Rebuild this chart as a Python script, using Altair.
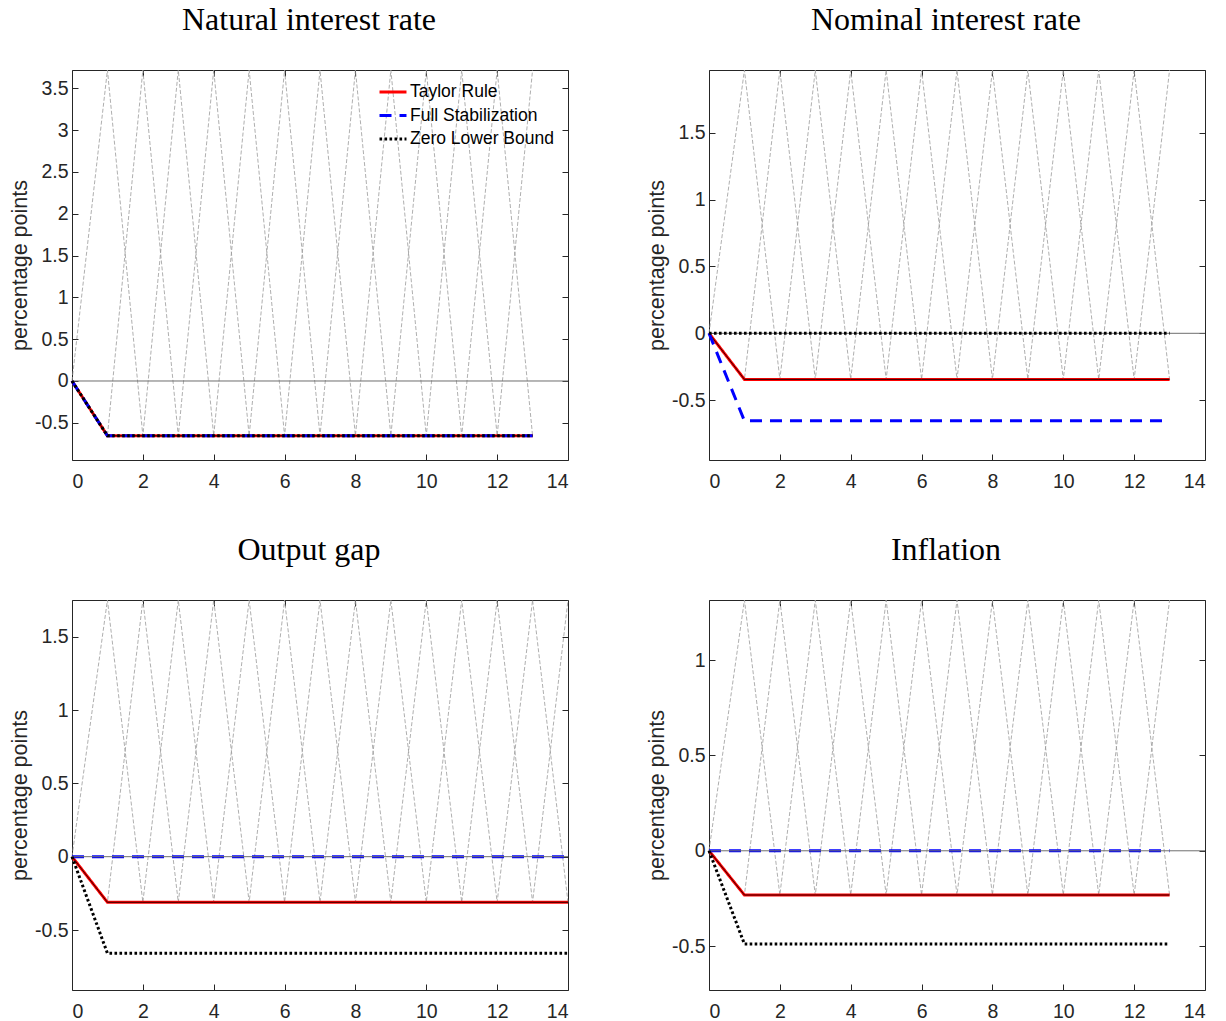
import altair as alt
import pandas as pd

# ---------------- data ----------------
SERIES = ["Taylor Rule", "Full Stabilization", "Zero Lower Bound"]
COLORS = ["#ff0000", "#0000ff", "#000000"]
DASHES = [[1, 0], [12, 8], [2.6, 2.4]]

TITLES = ["Natural interest rate", "Nominal interest rate", "Output gap", "Inflation"]
XTICKS = [0, 2, 4, 6, 8, 10, 12, 14]

X13 = [0, 1, 2, 3, 4, 5, 6, 7, 8, 9, 10, 11, 12, 13]
X14 = [0, 1, 2, 3, 4, 5, 6, 7, 8, 9, 10, 11, 12, 13, 14]

# Natural interest rate
P1_TAYLOR = [0, -0.655, -0.655, -0.655, -0.655, -0.655, -0.655, -0.655, -0.655, -0.655, -0.655, -0.655, -0.655, -0.655]
P1_FULL = [0, -0.655, -0.655, -0.655, -0.655, -0.655, -0.655, -0.655, -0.655, -0.655, -0.655, -0.655, -0.655, -0.655]
P1_ZLB = [0, -0.655, -0.655, -0.655, -0.655, -0.655, -0.655, -0.655, -0.655, -0.655, -0.655, -0.655, -0.655, -0.655]
P1_ZIG_A = [0, 3.72, -0.655, 3.72, -0.655, 3.72, -0.655, 3.72, -0.655, 3.72, -0.655, 3.72, -0.655, 3.72]
P1_ZIG_B = [0, -0.655, 3.72, -0.655, 3.72, -0.655, 3.72, -0.655, 3.72, -0.655, 3.72, -0.655, 3.72, -0.655]
P1_YDOM = [-0.945, 3.72]
P1_YTICKS = [-0.5, 0, 0.5, 1, 1.5, 2, 2.5, 3, 3.5]

# Nominal interest rate
P2_TAYLOR = [0, -0.345, -0.345, -0.345, -0.345, -0.345, -0.345, -0.345, -0.345, -0.345, -0.345, -0.345, -0.345, -0.345]
P2_FULL = [0, -0.655, -0.655, -0.655, -0.655, -0.655, -0.655, -0.655, -0.655, -0.655, -0.655, -0.655, -0.655, -0.655]
P2_ZLB = [0, 0, 0, 0, 0, 0, 0, 0, 0, 0, 0, 0, 0, 0]
P2_ZIG_A = [0, 1.97, -0.345, 1.97, -0.345, 1.97, -0.345, 1.97, -0.345, 1.97, -0.345, 1.97, -0.345, 1.97]
P2_ZIG_B = [0, -0.345, 1.97, -0.345, 1.97, -0.345, 1.97, -0.345, 1.97, -0.345, 1.97, -0.345, 1.97, -0.345]
P2_YDOM = [-0.948, 1.97]
P2_YTICKS = [-0.5, 0, 0.5, 1, 1.5]

# Output gap
P3_TAYLOR = [0, -0.311, -0.311, -0.311, -0.311, -0.311, -0.311, -0.311, -0.311, -0.311, -0.311, -0.311, -0.311, -0.311, -0.311]
P3_FULL = [0, 0, 0, 0, 0, 0, 0, 0, 0, 0, 0, 0, 0, 0, 0]
P3_ZLB = [0, -0.659, -0.659, -0.659, -0.659, -0.659, -0.659, -0.659, -0.659, -0.659, -0.659, -0.659, -0.659, -0.659, -0.659]
P3_ZIG_A = [0, 1.75, -0.311, 1.75, -0.311, 1.75, -0.311, 1.75, -0.311, 1.75, -0.311, 1.75, -0.311, 1.75, -0.311]
P3_ZIG_B = [0, -0.311, 1.75, -0.311, 1.75, -0.311, 1.75, -0.311, 1.75, -0.311, 1.75, -0.311, 1.75, -0.311, 1.75]
P3_YDOM = [-0.909, 1.75]
P3_YTICKS = [-0.5, 0, 0.5, 1, 1.5]

# Inflation
P4_TAYLOR = [0, -0.232, -0.232, -0.232, -0.232, -0.232, -0.232, -0.232, -0.232, -0.232, -0.232, -0.232, -0.232, -0.232]
P4_FULL = [0, 0, 0, 0, 0, 0, 0, 0, 0, 0, 0, 0, 0, 0]
P4_ZLB = [0, -0.489, -0.489, -0.489, -0.489, -0.489, -0.489, -0.489, -0.489, -0.489, -0.489, -0.489, -0.489, -0.489]
P4_ZIG_A = [0, 1.315, -0.232, 1.315, -0.232, 1.315, -0.232, 1.315, -0.232, 1.315, -0.232, 1.315, -0.232, 1.315]
P4_ZIG_B = [0, -0.232, 1.315, -0.232, 1.315, -0.232, 1.315, -0.232, 1.315, -0.232, 1.315, -0.232, 1.315, -0.232]
P4_YDOM = [-0.73, 1.315]
P4_YTICKS = [-0.5, 0, 0.5, 1]

ZERO_X = [0, 14]
ZERO_Y = [0, 0]

# ---------------- layout / style ----------------
W, H = 496, 390
AXIS_COLOR = "#262626"
SANS = "Liberation Sans"
SERIF = "Liberation Serif"
LABEL_EXPR = "'' + datum.value"


def tick_axis(orient, offset, values):
    return alt.Axis(orient=orient, offset=offset, values=values, labels=False,
                    domain=False, grid=False, ticks=True, tickSize=6,
                    tickColor=AXIS_COLOR, tickWidth=1, title=None)


def panel(title, xs, taylor, full, zlb, zig_a, zig_b, ydom, yticks, show_legend):
    n = len(xs)
    lines = pd.DataFrame({
        "x": xs * 3,
        "v": taylor + full + zlb,
        "s": [SERIES[0]] * n + [SERIES[1]] * n + [SERIES[2]] * n,
    })
    zig = pd.DataFrame({"x": xs * 2, "v": zig_a + zig_b, "g": ["a"] * n + ["b"] * n})
    zero = pd.DataFrame({"x": ZERO_X, "v": ZERO_Y})

    xsc = alt.Scale(domain=[0, 14], nice=False, zero=False)
    ysc = alt.Scale(domain=ydom, nice=False, zero=False)

    lab_x = alt.Axis(orient="bottom", values=XTICKS, ticks=False, tickSize=0, domain=False,
                     grid=False, labelPadding=12, labelFontSize=19.5, labelFont=SANS,
                     labelColor=AXIS_COLOR, title=None, labelExpr=LABEL_EXPR)
    lab_y = alt.Axis(orient="left", values=yticks, ticks=False, tickSize=0, domain=False,
                     grid=False, labelPadding=4, labelFontSize=19.5, labelFont=SANS,
                     labelColor=AXIS_COLOR, labelExpr=LABEL_EXPR,
                     title="percentage points", titleFont=SANS, titleFontSize=21.5,
                     titleFontWeight="normal", titleColor=AXIS_COLOR,
                     titleX=-52, titleY=H / 2, titleAngle=270,
                     titleAlign="center", titleBaseline="middle")

    if show_legend:
        leg = alt.Legend(orient="none", legendX=310, legendY=11, title=None,
                         symbolType="M-1.42,0H1.42", symbolSize=361, symbolStrokeWidth=2.8,
                         labelFont=SANS, labelFontSize=17.5, labelColor="black",
                         labelOffset=6, rowPadding=3.5, padding=0)
    else:
        leg = None

    col = alt.Color("s:N", scale=alt.Scale(domain=SERIES, range=COLORS), legend=leg)
    dash = alt.StrokeDash("s:N", scale=alt.Scale(domain=SERIES, range=DASHES), legend=leg)

    zig_layer = alt.Chart(zig).mark_line(color="#9a9a9a", strokeWidth=0.8,
                                         strokeDash=[4, 2]).encode(
        x=alt.X("x:Q", scale=xsc, axis=lab_x),
        y=alt.Y("v:Q", scale=ysc, axis=lab_y),
        detail="g:N",
    )

    def series_layer(i, xaxis, yaxis):
        return alt.Chart(lines).transform_filter(
            alt.datum.s == SERIES[i]
        ).mark_line(strokeWidth=3, strokeCap="butt").encode(
            x=alt.X("x:Q", scale=xsc, axis=xaxis),
            y=alt.Y("v:Q", scale=ysc, axis=yaxis),
            color=col,
            strokeDash=dash,
        )

    taylor_layer = series_layer(0, tick_axis("top", -H, XTICKS), tick_axis("left", -W, yticks))
    thin_layer = alt.Chart(lines).transform_filter(
        alt.datum.s == SERIES[0]
    ).mark_line(color="#000000", strokeWidth=0.8).encode(
        x=alt.X("x:Q", scale=xsc, axis=None),
        y=alt.Y("v:Q", scale=ysc, axis=None),
    )
    full_layer = series_layer(1, None, None)
    zero_layer = alt.Chart(zero).mark_line(color="#6e6e6e", strokeWidth=1).encode(
        x=alt.X("x:Q", scale=xsc, axis=tick_axis("bottom", -H, XTICKS)),
        y=alt.Y("v:Q", scale=ysc, axis=tick_axis("right", -W, yticks)),
    )
    zlb_layer = series_layer(2, None, None)

    return alt.layer(
        zig_layer, taylor_layer, thin_layer, full_layer, zero_layer, zlb_layer
    ).resolve_axis(x="independent", y="independent").properties(
        width=W, height=H,
        title=alt.TitleParams(text=title, font=SERIF, fontSize=32, fontWeight="normal",
                              color="black", anchor="middle", baseline="alphabetic",
                              offset=6, dx=-11),
    )


p1 = panel(TITLES[0], X13, P1_TAYLOR, P1_FULL, P1_ZLB, P1_ZIG_A, P1_ZIG_B, P1_YDOM, P1_YTICKS, True)
p2 = panel(TITLES[1], X13, P2_TAYLOR, P2_FULL, P2_ZLB, P2_ZIG_A, P2_ZIG_B, P2_YDOM, P2_YTICKS, False)
p3 = panel(TITLES[2], X14, P3_TAYLOR, P3_FULL, P3_ZLB, P3_ZIG_A, P3_ZIG_B, P3_YDOM, P3_YTICKS, False)
p4 = panel(TITLES[3], X13, P4_TAYLOR, P4_FULL, P4_ZLB, P4_ZIG_A, P4_ZIG_B, P4_YDOM, P4_YTICKS, False)

chart = alt.concat(p1, p2, p3, p4, columns=2).properties(
    spacing=alt.RowColnumber(row=140, column=141),
    bounds="flush",
    padding={"left": 0, "top": -5, "right": 10, "bottom": 10},
    background="white",
).resolve_scale(
    color="independent", strokeDash="independent"
).resolve_legend(
    color="independent", strokeDash="independent"
).configure_view(stroke=AXIS_COLOR, strokeWidth=1)

chart.save("out.html", embed_options={"renderer": "svg", "actions": False})
